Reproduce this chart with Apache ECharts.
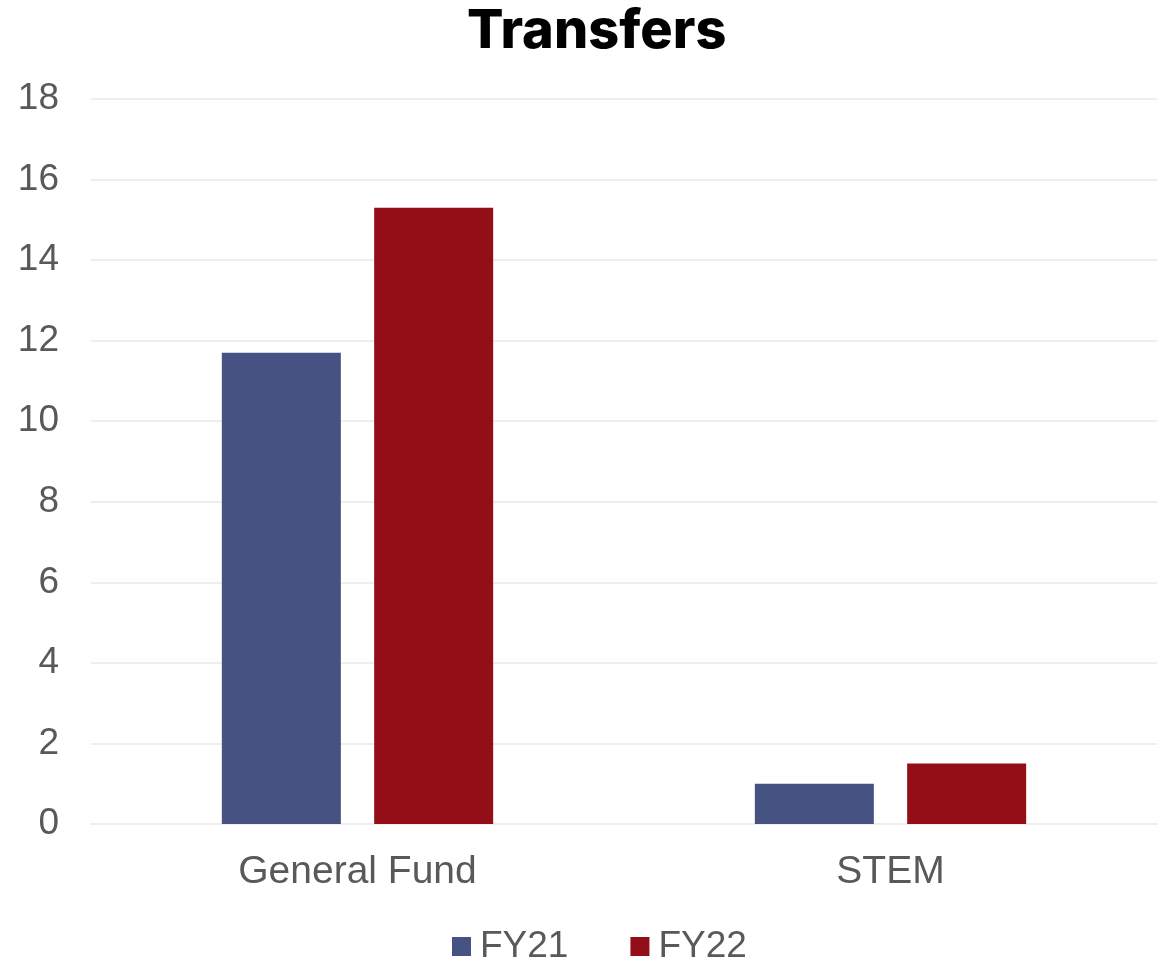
<!DOCTYPE html>
<html>
<head>
<meta charset="utf-8">
<script src="https://cdn.jsdelivr.net/npm/echarts@6/dist/echarts.min.js"></script>
<style>
  html, body { margin: 0; padding: 0; background: #fff; }
  #main { width: 1170px; height: 960px; }
</style>
</head>
<body>
<div id="main"></div>
<script>
  const categories = ['General Fund', 'STEM']
  const fy21 = [11.7, 1.0]
  const fy22 = [15.3, 1.5]
  const seriesNames = ['FY21', 'FY22']

  const chart = echarts.init(document.getElementById('main'))
  const option = {
    color: ['#465282', '#930E16'],
    title: {
      text: 'Transfers',
      left: 462,
      top: 0,
      textStyle: {
        fontFamily: 'Inter',
        fontWeight: 800,
        fontSize: 54,
        color: '#000'
      }
    },
    legend: {
      data: seriesNames,
      bottom: -10,
      left: 447,
      icon: 'rect',
      itemWidth: 19,
      itemHeight: 19,
      itemGap: 62,
      textStyle: {
        fontFamily: 'Liberation Sans',
        fontSize: 37,
        color: '#595959',
        padding: [0, 0, 0, 4]
      }
    },
    grid: {
      left: 91,
      right: 13,
      top: 99,
      bottom: 136
    },
    xAxis: {
      type: 'category',
      data: categories,
      axisLine: { lineStyle: { color: '#eeeeee', width: 2 } },
      axisTick: { show: false },
      axisLabel: {
        fontFamily: 'Liberation Sans',
        fontSize: 39,
        color: '#595959',
        margin: 29
      }
    },
    yAxis: {
      type: 'value',
      min: 0,
      max: 18,
      interval: 2,
      splitLine: { lineStyle: { color: '#eeeeee', width: 2 } },
      axisLine: { show: false },
      axisTick: { show: false },
      axisLabel: {
        fontFamily: 'Liberation Sans',
        fontSize: 37,
        color: '#595959',
        margin: 32
      }
    },
    series: [
      {
        name: seriesNames[0],
        type: 'bar',
        data: fy21,
        barWidth: 119,
        barGap: '28%'
      },
      {
        name: seriesNames[1],
        type: 'bar',
        data: fy22,
        barWidth: 119,
        barGap: '28%'
      }
    ]
  }
  option && chart.setOption(option)
</script>
</body>
</html>
